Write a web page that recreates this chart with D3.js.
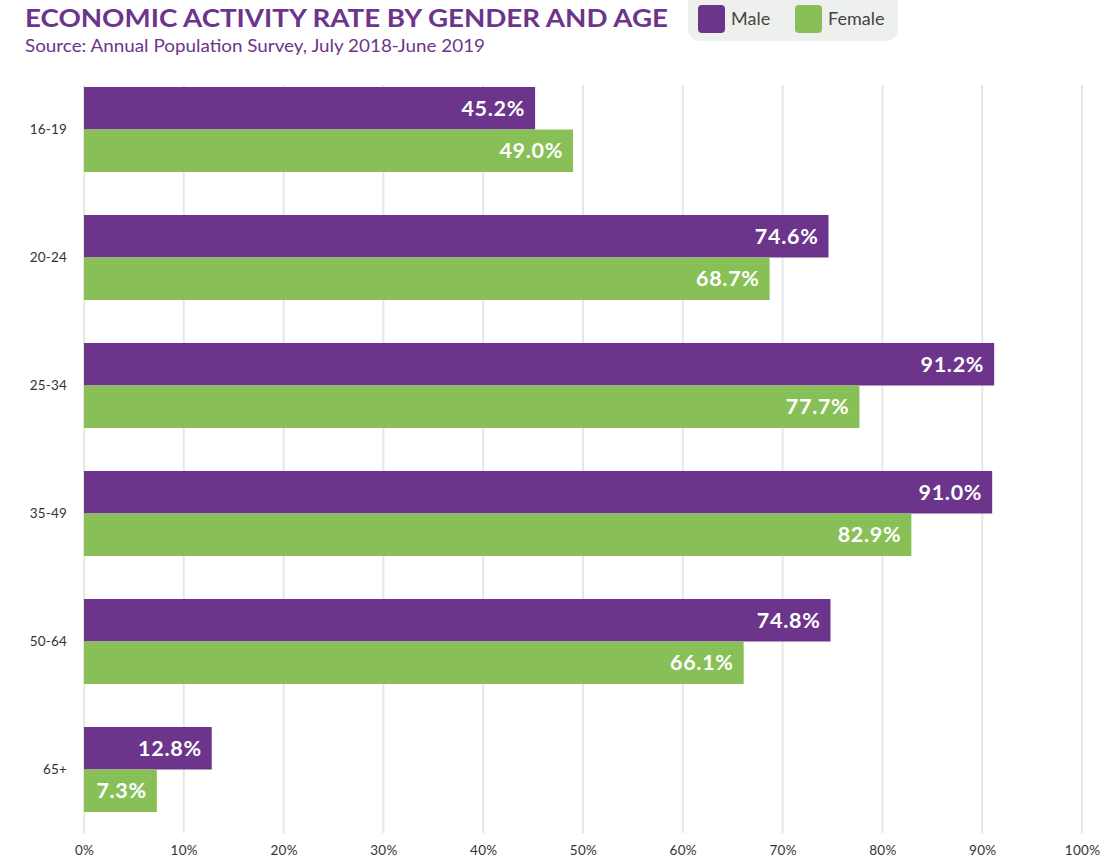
<!DOCTYPE html>
<html>
<head>
<meta charset="utf-8">
<script src="https://cdn.jsdelivr.net/npm/d3@7"></script>
<style>
  html, body { margin: 0; padding: 0; background: #fff; }
  svg { display: block; font-family: Lato, "Open Sans", sans-serif; }
</style>
</head>
<body>
<svg id="chart" width="1103" height="862"></svg>
<script>
// Economic activity rate (%) by age band
const ageGroups = ["16-19", "20-24", "25-34", "35-49", "50-64", "65+"];
const maleRates = [45.2, 74.6, 91.2, 91.0, 74.8, 12.8];
const femaleRates = [49.0, 68.7, 77.7, 82.9, 66.1, 7.3];
const seriesNames = ["Male", "Female"];
const seriesColors = ["#6c358b", "#88c057"];
const xTicks = [0, 10, 20, 30, 40, 50, 60, 70, 80, 90, 100];

const svg = d3.select("#chart");
const left = 84, right = 1082, gridTop = 85, gridBottom = 833;

const x = d3.scaleLinear().domain([0, 100]).range([left, right]);
const y = d3.scaleBand().domain(ageGroups).range([65.5, 833.5])
  .paddingInner(0.336).paddingOuter(0.168);
const ySub = d3.scaleBand().domain(seriesNames).range([0, y.bandwidth()]);

// Gridlines
svg.append("g").selectAll("line").data(xTicks).join("line")
  .attr("x1", d => x(d)).attr("x2", d => x(d))
  .attr("y1", gridTop).attr("y2", gridBottom)
  .attr("stroke", "#e6e6e6").attr("stroke-width", 2);

// Bottom axis labels
const xAxis = d3.axisBottom(x).tickValues(xTicks).tickFormat(d => d + "%").tickSize(0).tickPadding(0);
const gx = svg.append("g").attr("transform", `translate(0,${gridBottom + 10})`).call(xAxis);
gx.select(".domain").remove();
gx.selectAll("text").attr("font-size", 13.5).attr("fill", "#333").attr("dy", "0.9em")
  .attr("letter-spacing", 0.3).attr("font-family", "Lato, sans-serif");

// Left axis labels
const yAxis = d3.axisLeft(y).tickSize(0).tickPadding(0);
const gy = svg.append("g").attr("transform", `translate(67,0)`).call(yAxis);
gy.select(".domain").remove();
gy.selectAll("text").attr("font-size", 13.5).attr("fill", "#333")
  .attr("letter-spacing", 0.2).attr("font-family", "Lato, sans-serif");

// Bars
const rows = ageGroups.map((g, i) => ({ group: g, values: [
  { series: "Male", value: maleRates[i], color: seriesColors[0] },
  { series: "Female", value: femaleRates[i], color: seriesColors[1] }
]}));

const groups = svg.append("g").selectAll("g").data(rows).join("g")
  .attr("transform", d => `translate(0,${y(d.group)})`);

groups.selectAll("rect").data(d => d.values).join("rect")
  .attr("x", x(0))
  .attr("y", d => ySub(d.series))
  .attr("width", d => x(d.value) - x(0))
  .attr("height", ySub.bandwidth())
  .attr("fill", d => d.color);

groups.selectAll("text").data(d => d.values).join("text")
  .attr("x", d => x(d.value) - 10)
  .attr("y", d => ySub(d.series) + ySub.bandwidth() / 2 + 7.5)
  .attr("text-anchor", "end")
  .attr("fill", "#fff")
  .attr("font-size", 21.5)
  .attr("font-weight", 700)
  .attr("letter-spacing", 0.7)
  .text(d => d.value.toFixed(1) + "%");

// Title and subtitle
svg.append("text").attr("x", 25).attr("y", 27)
  .attr("fill", "#6c358b").attr("font-size", 25).attr("font-weight", 700)
  .attr("textLength", 643).attr("lengthAdjust", "spacingAndGlyphs")
  .text("ECONOMIC ACTIVITY RATE BY GENDER AND AGE");
svg.append("text").attr("x", 25).attr("y", 52)
  .attr("fill", "#6c358b").attr("font-size", 17)
  .attr("textLength", 460).attr("lengthAdjust", "spacingAndGlyphs")
  .text("Source: Annual Population Survey, July 2018-June 2019");

// Legend
const legend = svg.append("g");
legend.append("rect").attr("x", 688).attr("y", -12).attr("width", 210).attr("height", 53)
  .attr("rx", 12).attr("fill", "#eef0ee");
const legendItems = [
  { name: seriesNames[0], color: seriesColors[0], x: 698 },
  { name: seriesNames[1], color: seriesColors[1], x: 795 }
];
const li = legend.selectAll("g.item").data(legendItems).join("g").attr("class", "item");
li.append("rect").attr("x", d => d.x).attr("y", 5).attr("width", 27).attr("height", 28)
  .attr("rx", 4).attr("fill", d => d.color);
li.append("text").attr("x", d => d.x + 33).attr("y", 25)
  .attr("font-size", 18).attr("fill", "#444").text(d => d.name);
</script>
</body>
</html>
